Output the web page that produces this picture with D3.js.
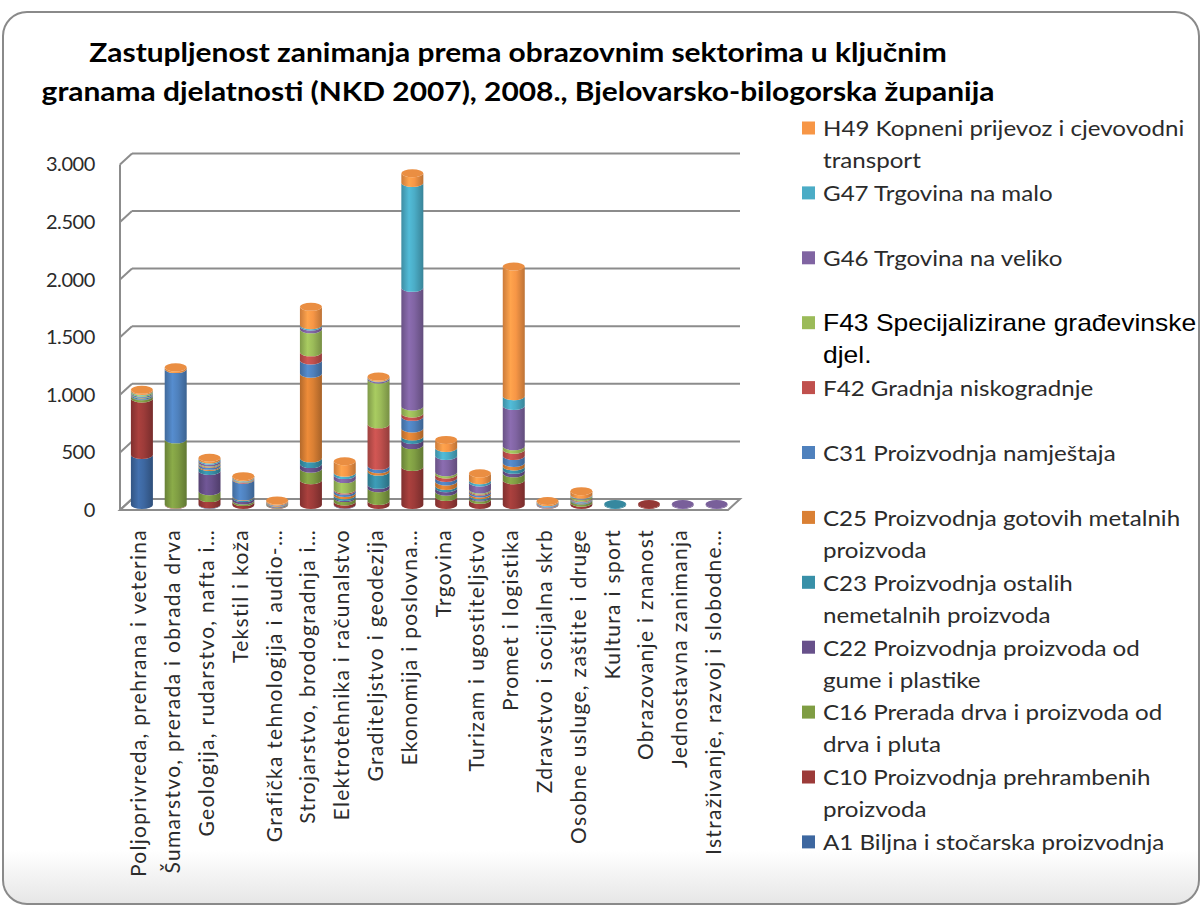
<!DOCTYPE html>
<html><head><meta charset="utf-8">
<script src="https://cdn.jsdelivr.net/npm/d3@7"></script>
<style>
html,body{margin:0;padding:0;background:#fff;}
svg{display:block;}
</style></head>
<body>
<svg id="chart" width="1203" height="906"></svg>
<script>
// ---------- DATA ----------
const titleLines = [
  "Zastupljenost zanimanja prema obrazovnim sektorima u ključnim",
  "granama djelatnosti (NKD 2007), 2008., Bjelovarsko-bilogorska županija"
];
const categories = [
  "Poljoprivreda, prehrana i veterina",
  "Šumarstvo, prerada i obrada drva",
  "Geologija, rudarstvo, nafta i…",
  "Tekstil i koža",
  "Grafička tehnologija i audio-…",
  "Strojarstvo, brodogradnja i…",
  "Elektrotehnika i računalstvo",
  "Graditeljstvo i geodezija",
  "Ekonomija i poslovna…",
  "Trgovina",
  "Turizam i ugostiteljstvo",
  "Promet i logistika",
  "Zdravstvo i socijalna skrb",
  "Osobne usluge, zaštite i druge",
  "Kultura i sport",
  "Obrazovanje i znanost",
  "Jednostavna zanimanja",
  "Istraživanje, razvoj i slobodne…"
];
const yTicks = [0, 500, 1000, 1500, 2000, 2500, 3000];

// series, bottom -> top
const seriesNames = [
  "A1 Biljna i stočarska proizvodnja",
  "C10 Proizvodnja prehrambenih\nproizvoda",
  "C16 Prerada drva i proizvoda od\ndrva i pluta",
  "C22 Proizvodnja proizvoda od\ngume i plastike",
  "C23 Proizvodnja ostalih\nnemetalnih proizvoda",
  "C25 Proizvodnja gotovih metalnih\nproizvoda",
  "C31 Proizvodnja namještaja",
  "F42 Gradnja niskogradnje",
  "F43 Specijalizirane građevinske\ndjel.",
  "G46 Trgovina na veliko",
  "G47 Trgovina na malo",
  "H49 Kopneni prijevoz i cjevovodni\ntransport"
];
const seriesColors = ["#3D67A0","#9C3B39","#7F9D43","#67508A","#3890A8","#DA8034",
                      "#4F81BD","#C0504D","#9BBB59","#8064A2","#4BACC6","#F79646"];

const A1  = [435,   0,   5,   0,  0,   0,   5,   0,    0,   0,  0,    0, 0,  0, 0, 0, 0, 0];
const C10 = [490,   5,  55,  25,  5, 215,  25,  35,  330,  70, 45,  215, 0, 20, 0, 8, 0, 0];
const C16 = [ 20, 565,  60,  15,  5, 100,  30, 110,  190,  45, 20,   60, 0, 20, 0, 0, 0, 0];
const C22 = [  5,   0, 175,  20,  5,  40,  10,  30,   45,  30, 10,   30, 5,  5, 0, 0, 0, 0];
const C23 = [ 10,   0,  35,  10,  5,  50,  15, 115,   30,  20, 10,   30, 0,  5, 8, 0, 0, 0];
const C25 = [  5,   0,  10,   5,  5, 735,  20,  20,   70,  40, 15,   30, 5,  5, 0, 0, 0, 0];
const C31 = [ 10, 610,  15, 145,  5, 115,  20,  30,  100,  30, 15,   60, 5,  5, 0, 0, 0, 0];
const F42 = [  0,   0,   5,   5,  0,  70,  10, 360,   30,  30, 10,   55, 0,  5, 0, 0, 0, 0];
const F43 = [ 10,   0,  10,   5,  0, 200,  90, 390,   60,  20, 10,   30, 0, 15, 0, 0, 0, 0];
const G46 = [  0,   0,  15,   5,  0,  25,  35,  10, 1030, 140, 60,  350, 5,  5, 0, 0, 8, 8];
const G47 = [  5,   0,  10,   5,  0,  10,  20,   5,  910,  70, 20,   85, 5,  5, 0, 0, 0, 0];
const H49 = [ 10,  15,  15,  10, 10, 160, 100,  10,   85,  70, 60, 1125,10, 30, 0, 0, 0, 0];
const seriesValues = [A1, C10, C16, C22, C23, C25, C31, F42, F43, G46, G47, H49];

// ---------- DRAW ----------
const svg = d3.select("#chart");
const defs = svg.append("defs");
const fontMain = "Lato, 'Open Sans', sans-serif";
const textCol = "#2b2b2b";
const stretch = 1.15;

// frame
const fg = defs.append("linearGradient").attr("id","frameGrad").attr("x1",0).attr("y1",0).attr("x2",0).attr("y2",1);
fg.append("stop").attr("offset","0.94").attr("stop-color","#ffffff");
fg.append("stop").attr("offset","1").attr("stop-color","#e6e6e6");
svg.append("rect").attr("x",3).attr("y",12).attr("width",1196).attr("height",892).attr("rx",24)
  .attr("fill","url(#frameGrad)").attr("stroke","#8a8a8a").attr("stroke-width",2);

// title
svg.append("g").selectAll("text").data(titleLines).join("text")
  .attr("transform",(d,i)=>`translate(518,${52+i*39}) scale(${stretch},1)`)
  .attr("text-anchor","middle").attr("dominant-baseline","central")
  .attr("font-family",fontMain).attr("font-weight","bold").attr("font-size",26).attr("fill","#000")
  .text(d=>d);

// scales
const yBar = d3.scaleLinear().domain([0,3000]).range([505, 505-345.6]);
const yFront = d3.scaleLinear().domain([0,3000]).range([510, 164.4]);
const yBack = d3.scaleLinear().domain([0,3000]).range([499, 153.4]);
const x = d3.scaleBand().domain(categories).range([125, 733.5]).padding(0);
const cx = c => x(c) + x.bandwidth()/2;

// walls / gridlines
const wall = svg.append("g").attr("stroke","#8c8c8c").attr("stroke-width",2).attr("fill","none");
wall.append("line").attr("x1",120).attr("x2",120).attr("y1",yFront(0)).attr("y2",yFront(3000));
yTicks.forEach(t=>{
  wall.append("line").attr("x1",120).attr("y1",yFront(t)).attr("x2",132).attr("y2",yBack(t));
  if(t>0) wall.append("line").attr("x1",132).attr("y1",yBack(t)).attr("x2",740).attr("y2",yBack(t));
});
wall.append("path").attr("d",`M120,${yFront(0)}L728,${yFront(0)}L740,${yBack(0)}L132,${yBack(0)}Z`);

// y axis labels
const fmt = d3.formatLocale({decimal:",", thousands:".", grouping:[3], currency:["",""]}).format(",d");
const yAxis = d3.axisLeft(yFront).tickValues(yTicks).tickFormat(fmt).tickSize(0).tickPadding(0);
const yg = svg.append("g").attr("transform","translate(95,0)").call(yAxis);
yg.select(".domain").remove();
yg.selectAll("text").attr("font-family",fontMain).attr("font-size",20).attr("letter-spacing",-0.4).attr("fill",textCol);

// gradients per series
seriesColors.forEach((c,i)=>{
  const g = defs.append("linearGradient").attr("id","sg"+i).attr("x1",0).attr("x2",1).attr("y1",0).attr("y2",0);
  const base = d3.color(c);
  g.append("stop").attr("offset","0").attr("stop-color",base.darker(0.55));
  g.append("stop").attr("offset","0.35").attr("stop-color",base.brighter(0.25));
  g.append("stop").attr("offset","0.6").attr("stop-color",base);
  g.append("stop").attr("offset","1").attr("stop-color",base.darker(0.75));
});

// stacked cylinders
const rx = 11, ry = 4;
const stack = d3.stack().keys(d3.range(seriesValues.length)).value((d,k)=>seriesValues[k][d]);
const stacked = stack(d3.range(categories.length));
const bars = svg.append("g");
categories.forEach((c,ci)=>{
  const xc = cx(c);
  const g = bars.append("g");
  let topSeries = -1, total = 0;
  stacked.forEach((layer,si)=>{
    const [v0,v1] = layer[ci];
    if(v1 - v0 <= 0) return;
    topSeries = si; total = v1;
    const yb = yBar(v0), yt = yBar(v1);
    g.append("path")
      .attr("d",`M${xc-rx},${yt}L${xc-rx},${yb}A${rx},${ry} 0 0 0 ${xc+rx},${yb}L${xc+rx},${yt}A${rx},${ry} 0 0 1 ${xc-rx},${yt}Z`)
      .attr("fill",`url(#sg${si})`);
  });
  if(topSeries>=0){
    g.append("ellipse").attr("cx",xc).attr("cy",yBar(total)).attr("rx",rx).attr("ry",ry)
      .attr("fill",d3.color(seriesColors[topSeries]).darker(0.15));
  }
});

// category labels
svg.append("g").selectAll("text").data(categories).join("text")
  .attr("transform",d=>`translate(${cx(d)-4},529) rotate(-90)`)
  .attr("text-anchor","end").attr("dominant-baseline","central")
  .attr("font-family",fontMain).attr("font-size",21).attr("letter-spacing",1.3).attr("fill",textCol)
  .text(d=>d);

// legend (top -> bottom = reverse series order)
const legOrder = d3.range(seriesNames.length).reverse();
const leg = svg.append("g");
legOrder.forEach((si,k)=>{
  const yc = 128 + k*64.9;
  const isF43 = seriesNames[si].startsWith("F43");
  leg.append("rect").attr("x",802).attr("y",yc-6.5).attr("width",13).attr("height",13).attr("fill",seriesColors[si]);
  const lines = seriesNames[si].split("\n");
  const t = leg.append("text")
    .attr("transform",`translate(823,${yc}) scale(${stretch},1)`)
    .attr("dominant-baseline","central")
    .attr("font-family", isF43 ? "'Liberation Sans', Arial, sans-serif" : fontMain)
    .attr("font-size", isF43 ? 23 : 21)
    .attr("fill", isF43 ? "#000" : textCol);
  lines.forEach((ln,li)=>{
    t.append("tspan").attr("x",0).attr("y", li*32).text(ln);
  });
});
</script>
</body></html>
